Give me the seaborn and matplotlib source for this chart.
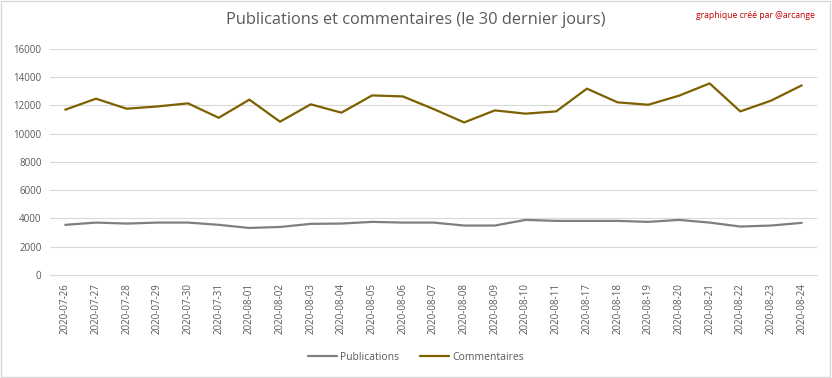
import pandas as pd
import matplotlib.pyplot as plt
import seaborn as sns

dates = ['2020-07-26', '2020-07-27', '2020-07-28', '2020-07-29', '2020-07-30', '2020-07-31',
         '2020-08-01', '2020-08-02', '2020-08-03', '2020-08-04', '2020-08-05', '2020-08-06',
         '2020-08-07', '2020-08-08', '2020-08-09', '2020-08-10', '2020-08-11', '2020-08-17',
         '2020-08-18', '2020-08-19', '2020-08-20', '2020-08-21', '2020-08-22', '2020-08-23',
         '2020-08-24']
publications = [3550, 3710, 3640, 3710, 3710, 3550, 3330, 3400, 3620, 3640, 3760, 3710,
                3710, 3500, 3500, 3900, 3830, 3830, 3830, 3760, 3900, 3710, 3430, 3500, 3690]
commentaires = [11700, 12480, 11770, 11930, 12150, 11130, 12410, 10850, 12080, 11490, 12710, 12640,
                11750, 10800, 11650, 11420, 11580, 13190, 12220, 12050, 12690, 13560, 11580, 12340,
                13420]

series_names = ['Publications', 'Commentaires']
series_colors = ['#7f7f7f', '#7f6000']

# long format for seaborn
df = pd.DataFrame({
    'date': dates * 2,
    'value': publications + commentaires,
    'serie': [series_names[0]] * len(dates) + [series_names[1]] * len(dates),
})

sns.set_style('white')
plt.rcParams['font.family'] = ['Open Sans', 'DejaVu Sans']

fig = plt.figure(figsize=(8.32, 3.78), dpi=100)
ax = fig.add_axes([0.060, 0.2725, 0.922, 0.598])

sns.lineplot(data=df, x='date', y='value', hue='serie', palette=series_colors,
             linewidth=1.6, ax=ax, legend=False)

ax.set_ylim(0, 16000)
ax.set_yticks(range(0, 16001, 2000))
ax.set_xlim(-0.5, len(dates) - 0.5)
ax.set_xticks(range(len(dates)))
ax.set_xticklabels(dates, rotation=90)
ax.tick_params(axis='both', labelsize=7, colors='#595959', length=0, pad=6)
ax.grid(axis='y', color='#d9d9d9', linewidth=0.8)
ax.set_axisbelow(True)
for side in ['top', 'right', 'left']:
    ax.spines[side].set_visible(False)
ax.spines['bottom'].set_color('#d9d9d9')
ax.set_xlabel('')
ax.set_ylabel('')

fig.text(0.5, 0.947, 'Publications et commentaires (le 30 dernier jours)',
         ha='center', va='center', fontsize=11.8, color='#595959')
fig.text(0.98, 0.958, 'graphique créé par @arcange',
         ha='right', va='center', fontsize=6.2, color='#c00000')

handles = [plt.Line2D([], [], color=c, linewidth=1.6) for c in series_colors]
fig.legend(handles, series_names, loc='center', bbox_to_anchor=(0.5, 0.055), ncol=2,
           frameon=False, fontsize=7.5, labelcolor='#595959', handlelength=2.8,
           handletextpad=0.3, columnspacing=2)

# light border around the picture
fig.patches.append(plt.Rectangle((0.001, 0.002), 0.997, 0.995, transform=fig.transFigure,
                                 fill=False, edgecolor='#d9d9d9', linewidth=1))

fig.savefig('out.png', dpi=100)
